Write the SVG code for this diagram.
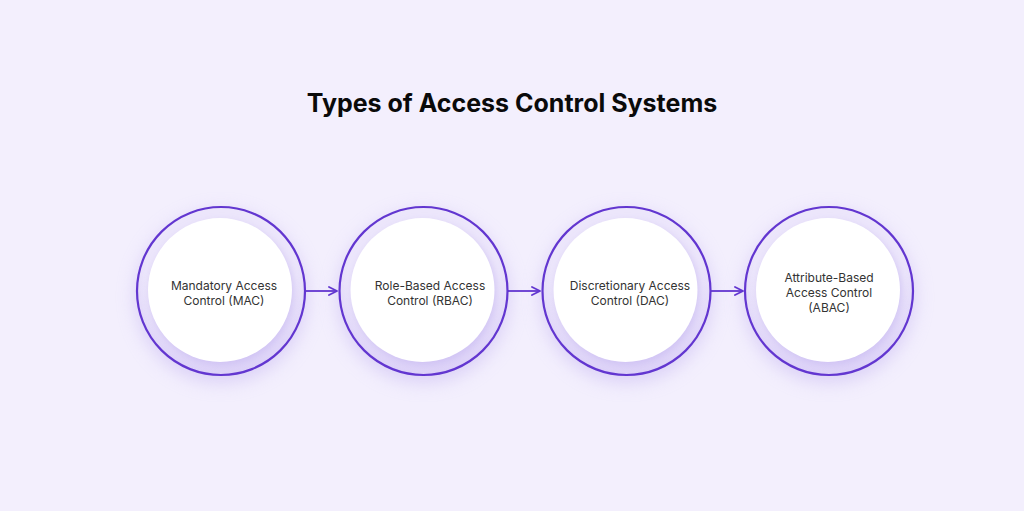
<svg xmlns="http://www.w3.org/2000/svg" width="1024" height="511" viewBox="0 0 1024 511">
<defs>
<radialGradient id="ringFill" cx="0.5" cy="0.42" r="0.6">
<stop offset="0.75" stop-color="#ece6fb"/>
<stop offset="1" stop-color="#d9cdf7"/>
</radialGradient>
<filter id="glow" x="-30%" y="-30%" width="160%" height="160%">
<feGaussianBlur stdDeviation="9"/>
</filter>
<filter id="innerSh" x="-20%" y="-20%" width="140%" height="140%">
<feGaussianBlur stdDeviation="4"/>
</filter>
<marker id="arr" viewBox="0 0 10 10" refX="9" refY="5" markerWidth="10" markerHeight="10" markerUnits="userSpaceOnUse" orient="auto">
<path d="M1,1 L9,5 L1,9" fill="none" stroke="#6236d0" stroke-width="1.8" stroke-linecap="round" stroke-linejoin="round"/>
</marker>
</defs>
<style>
.glow{fill:#cbbdf3;opacity:0.6;filter:url(#glow)}
.ring{fill:url(#ringFill);stroke:#6236d0;stroke-width:2.2}
.inner{fill:#ffffff}
.innersh{fill:#c5b5f1;opacity:0.7;filter:url(#innerSh)}
.lbl{font-family:"Inter","Liberation Sans",sans-serif;font-size:12px;fill:#333333;text-anchor:middle}
.title{font-family:"Inter","Liberation Sans",sans-serif;font-size:25px;font-weight:700;fill:#0a0a0a;text-anchor:middle}
.conn{stroke:#6236d0;stroke-width:1.8;fill:none}
</style>
<rect width="1024" height="511" fill="#f3effd"/>
<text class="title" x="512" y="112">Types of Access Control Systems</text>

<g id="node-mac">
<circle class="glow" cx="221" cy="297" r="86"/>
<circle class="ring" cx="221" cy="291" r="84"/>
<circle class="innersh" cx="222" cy="294" r="72"/>
<circle class="inner" cx="220" cy="290" r="72"/>
<text class="lbl" x="224" y="290">Mandatory Access</text>
<text class="lbl" x="224" y="305">Control (MAC)</text>
</g>
<g id="node-rbac">
<circle class="glow" cx="423.5" cy="297" r="86"/>
<circle class="ring" cx="423.5" cy="291" r="84"/>
<circle class="innersh" cx="424.5" cy="294" r="72"/>
<circle class="inner" cx="422.5" cy="290" r="72"/>
<text class="lbl" x="430" y="290">Role-Based Access</text>
<text class="lbl" x="430" y="305">Control (RBAC)</text>
</g>
<g id="node-dac">
<circle class="glow" cx="626.5" cy="297" r="86"/>
<circle class="ring" cx="626.5" cy="291" r="84"/>
<circle class="innersh" cx="627.5" cy="294" r="72"/>
<circle class="inner" cx="625.5" cy="290" r="72"/>
<text class="lbl" x="630" y="290">Discretionary Access</text>
<text class="lbl" x="630" y="305">Control (DAC)</text>
</g>
<g id="node-abac">
<circle class="glow" cx="829" cy="297" r="86"/>
<circle class="ring" cx="829" cy="291" r="84"/>
<circle class="innersh" cx="830" cy="294" r="72"/>
<circle class="inner" cx="828" cy="290" r="72"/>
<text class="lbl" x="829" y="282">Attribute-Based</text>
<text class="lbl" x="829" y="297">Access Control</text>
<text class="lbl" x="829" y="312">(ABAC)</text>
</g>

<g id="connectors">
<line class="conn" x1="305" y1="291" x2="337" y2="291" marker-end="url(#arr)"/>
<line class="conn" x1="508" y1="291" x2="540" y2="291" marker-end="url(#arr)"/>
<line class="conn" x1="711" y1="291" x2="743" y2="291" marker-end="url(#arr)"/>
</g>
</svg>
